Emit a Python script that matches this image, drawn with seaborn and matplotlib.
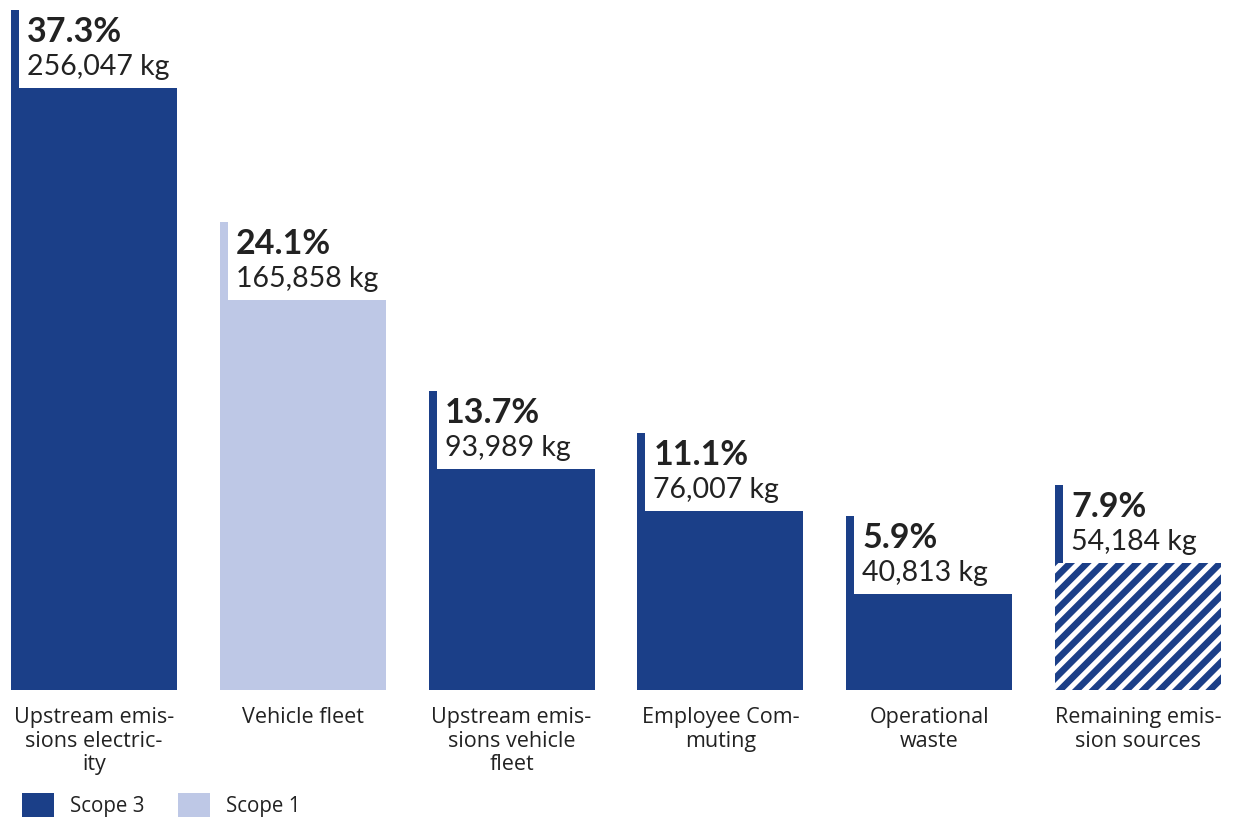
import pandas as pd
import matplotlib.pyplot as plt
from matplotlib.patches import Patch
import seaborn as sns

# ---- data ----
categories = ["Upstream emis-\nsions electric-\nity", "Vehicle fleet",
              "Upstream emis-\nsions vehicle\nfleet", "Employee Com-\nmuting",
              "Operational\nwaste", "Remaining emis-\nsion sources"]
emissions_kg = [256047, 165858, 93989, 76007, 40813, 54184]
shares = ["37.3%", "24.1%", "13.7%", "11.1%", "5.9%", "7.9%"]
scopes = ["Scope 3", "Scope 1", "Scope 3", "Scope 3", "Scope 3", "Scope 3"]

DARK = "#1b3f88"
LIGHT = "#bec8e6"
TXT = "#222222"
scope_colors = {"Scope 3": DARK, "Scope 1": LIGHT}

sns.set_theme(style="white")
plt.rcParams['font.family'] = ['Lato', 'DejaVu Sans']
plt.rcParams['hatch.linewidth'] = 4.8
plt.rcParams['hatch.color'] = DARK

df = pd.DataFrame({"cat": categories, "kg": emissions_kg, "scope": scopes})

fig = plt.figure(figsize=(12.38, 8.17), dpi=100)
ax = fig.add_axes([11 / 1238, 127 / 817, 1210 / 1238, 680 / 817])

bar_w = 166 / 208.8
palette = {c: scope_colors[s] for c, s in zip(categories, scopes)}
sns.barplot(data=df, x="cat", y="kg", hue="cat", palette=palette, width=bar_w,
            dodge=False, legend=False, saturation=1, ax=ax)

ymax = emissions_kg[0] * 680 / 602
strip_h = emissions_kg[0] * 78 / 602
strip_w = 8 / 208.8

for i, p in enumerate(ax.patches):
    p.set_linewidth(0)
    if i == len(categories) - 1:
        # remaining sources: white bar with diagonal stripes
        p.set_facecolor("white")
        p.set_edgecolor(DARK)
        p.set_hatch("//")

for i, (v, s) in enumerate(zip(emissions_kg, shares)):
    left = i - bar_w / 2
    col = scope_colors[scopes[i]]
    ax.bar(left, strip_h, width=strip_w, bottom=v, align="edge", color=col, linewidth=0)
    ax.annotate(s, xy=(left, v), xytext=(11.5, 33), textcoords="offset points",
                fontsize=24.5, fontweight="bold", color=TXT, va="baseline", ha="left")
    ax.annotate(f"{v:,} kg", xy=(left, v), xytext=(11.5, 9.4), textcoords="offset points",
                fontsize=20.5, color=TXT, va="baseline", ha="left")

ax.set_xlim(-bar_w / 2, len(categories) - 1 + bar_w / 2)
ax.set_ylim(0, ymax)
ax.set_xlabel("")
ax.set_ylabel("")
ax.set_yticks([])
ax.set_xticks(range(len(categories)))
ax.set_xticklabels(categories, fontsize=15.5, color=TXT, linespacing=1.18,
                   family=['Open Sans', 'DejaVu Sans'])
ax.tick_params(axis="x", length=0, pad=12)
sns.despine(ax=ax, left=True, bottom=True)

handles = [Patch(facecolor=DARK, edgecolor="none", label="Scope 3"),
           Patch(facecolor=LIGHT, edgecolor="none", label="Scope 1")]
leg = fig.legend(handles=handles, loc="lower left", bbox_to_anchor=(22 / 1238, 0.0), ncol=2,
                 frameon=False, prop={'family': ['Open Sans', 'DejaVu Sans'], 'size': 14.8},
                 handlelength=1.55, handleheight=1.4, handletextpad=0.78,
                 columnspacing=1.65, borderpad=0, borderaxespad=0, labelcolor=TXT)

fig.savefig("out.png", dpi=100)
